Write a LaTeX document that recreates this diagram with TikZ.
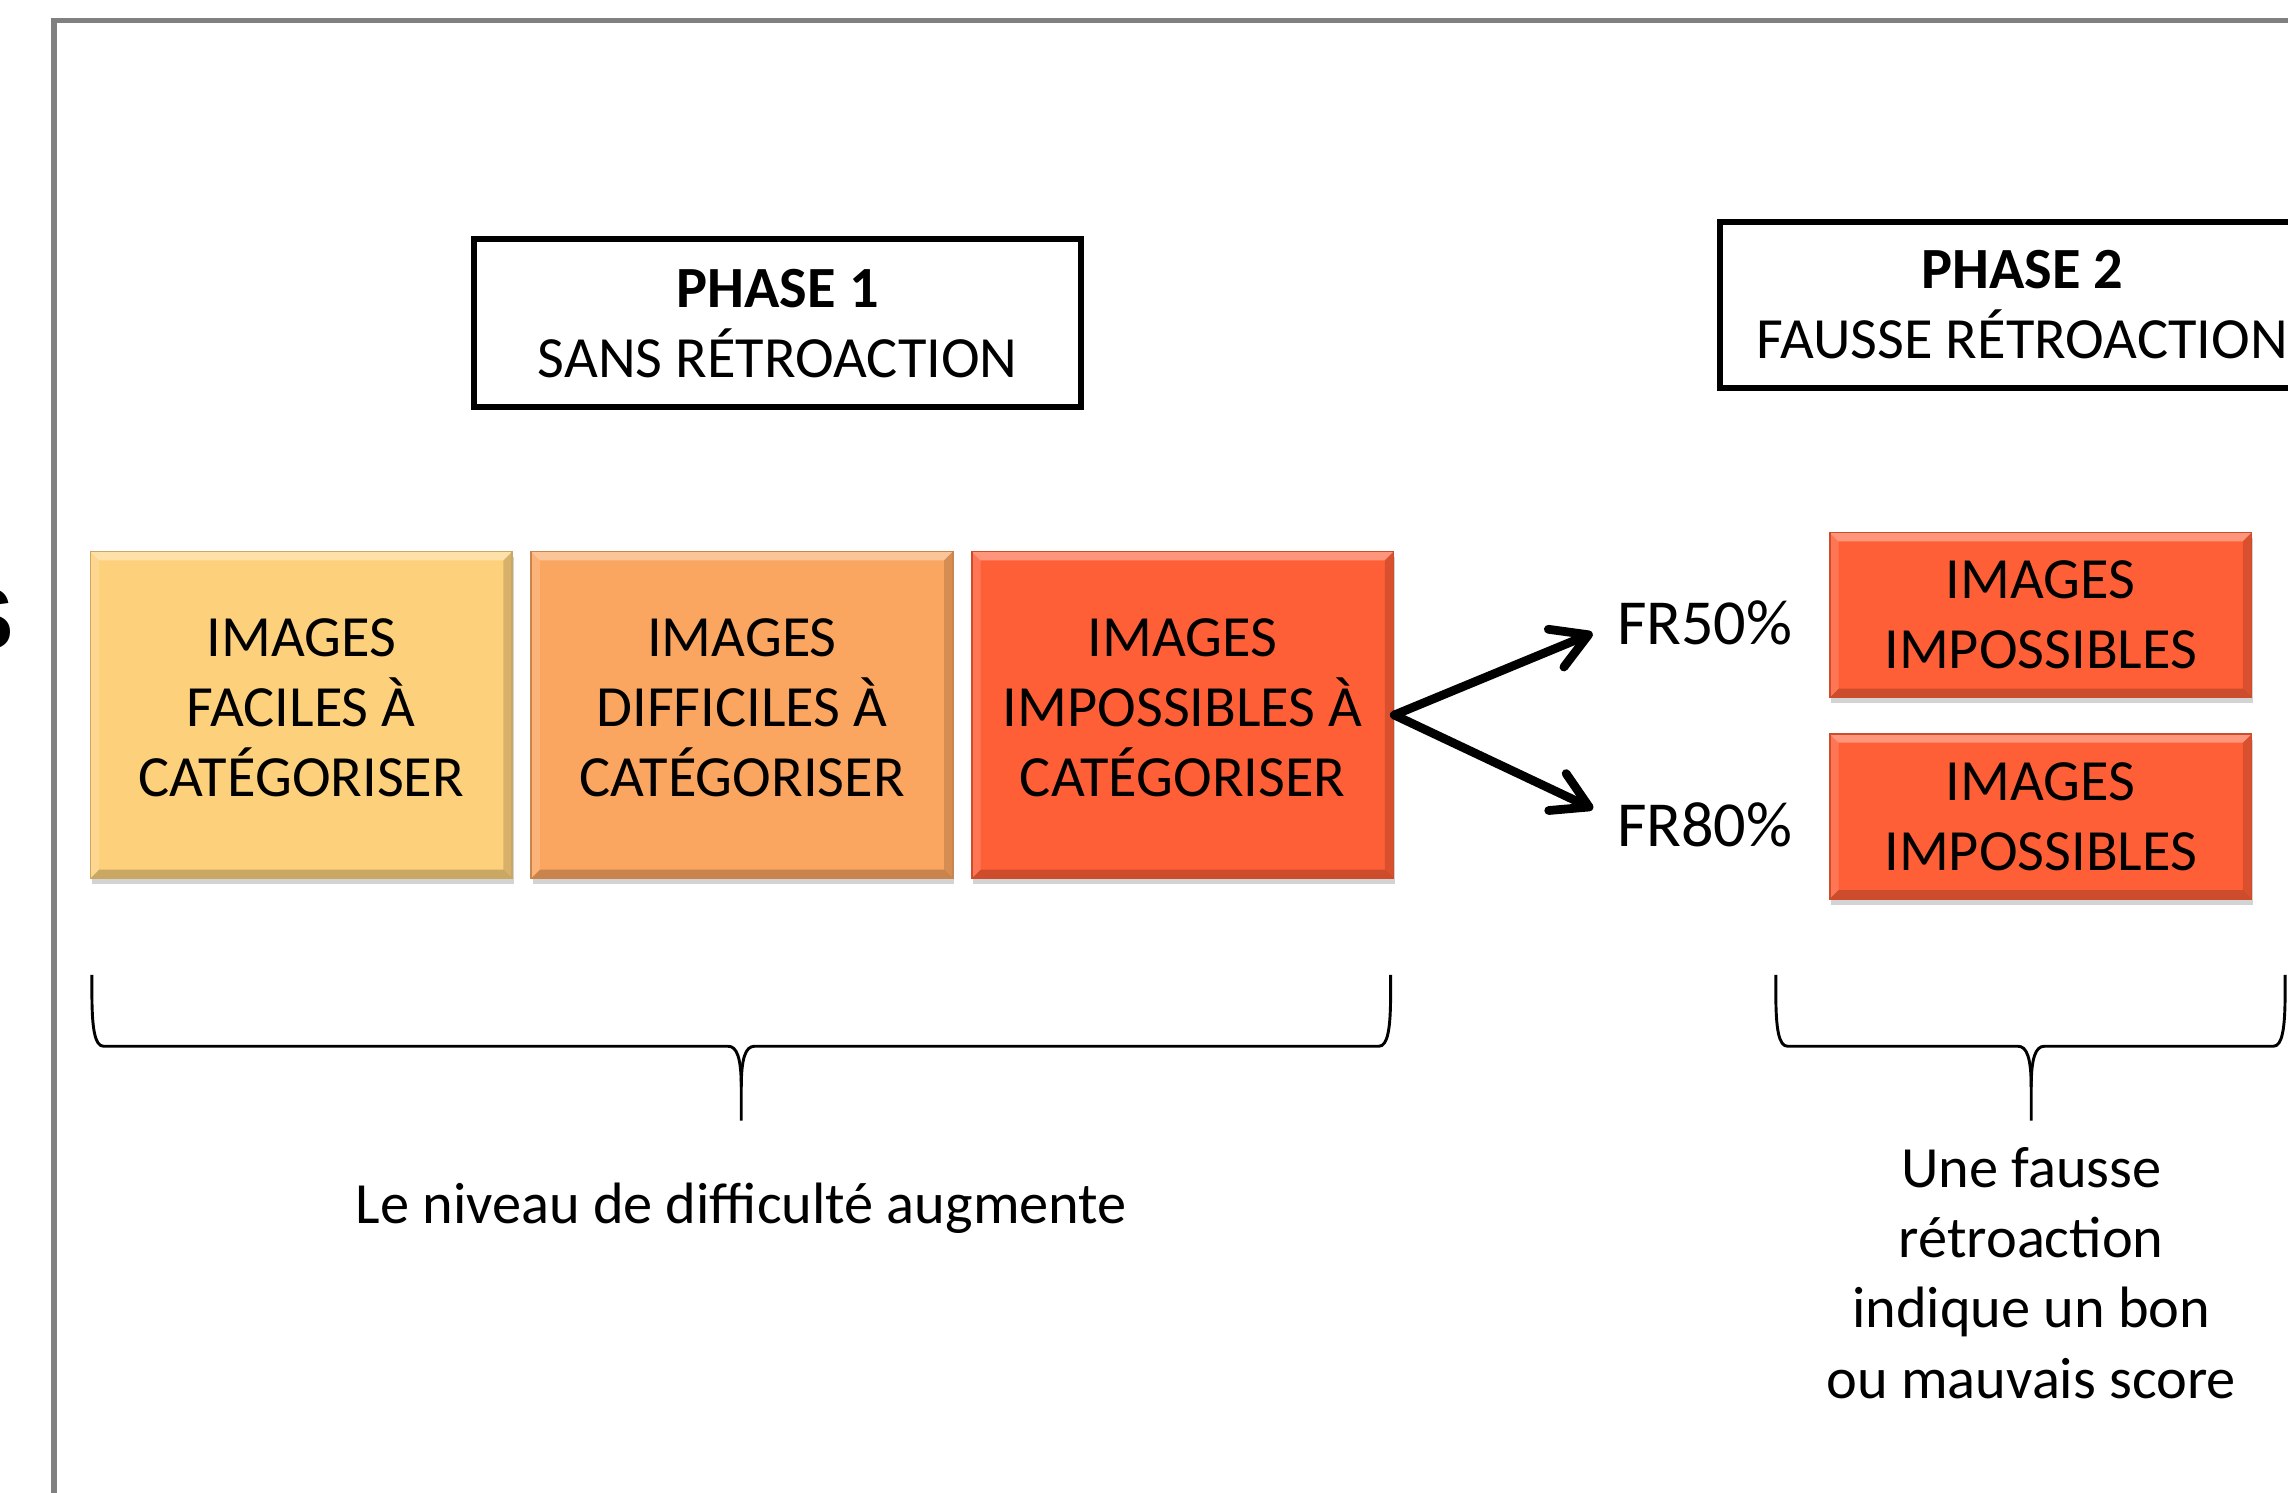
\documentclass[tikz,border=0pt]{standalone}
\usepackage{fontspec}
\setmainfont{Carlito}
\newfontfamily\sletterfont{Liberation Sans}
\usetikzlibrary{arrows.meta,positioning,shadows}

\definecolor{easyfill}{RGB}{253,209,124}
\definecolor{hardfill}{RGB}{251,166,96}
\definecolor{impfill}{RGB}{255,95,55}
\definecolor{framegray}{RGB}{128,128,128}

\newcommand{\bigfont}{\fontsize{40}{48}\selectfont}
\newcommand{\frfont}{\fontsize{44}{52}\selectfont}
\newcommand{\lift}{\rule[-10pt]{0pt}{10pt}}

\tikzset{
  imgbox/.style={rectangle, align=center, inner sep=0pt, font=\bigfont,
                 draw=#1!80!black, line width=1pt, fill=#1,
                 drop shadow={shadow xshift=1pt, shadow yshift=-4pt, opacity=.35},
                 path picture={
                   \fill[white, opacity=.35] (path picture bounding box.north west)
                     -- (path picture bounding box.north east) -- ++(-6pt,-6pt)
                     -- ([shift={(6pt,-6pt)}]path picture bounding box.north west) -- cycle;
                   \fill[white, opacity=.15] (path picture bounding box.north west)
                     -- ++(6pt,-6pt) -- ([shift={(6pt,6pt)}]path picture bounding box.south west)
                     -- (path picture bounding box.south west) -- cycle;
                   \fill[black, opacity=.15] (path picture bounding box.north east)
                     -- ++(-6pt,-6pt) -- ([shift={(-6pt,6pt)}]path picture bounding box.south east)
                     -- (path picture bounding box.south east) -- cycle;
                   \fill[black, opacity=.2] (path picture bounding box.south west)
                     -- (path picture bounding box.south east) -- ++(-6pt,6pt)
                     -- ([shift={(6pt,6pt)}]path picture bounding box.south west) -- cycle;
                 }},
  tallbox/.style={imgbox=#1, minimum width=289pt, minimum height=224pt},
  flatbox/.style={imgbox=#1, minimum width=289pt, minimum height=113pt},
  phasebox/.style={rectangle, draw, line width=4pt, align=center, inner sep=0pt,
                   font=\bigfont},
  fork/.style={-{Straight Barb[length=24pt, width=28pt, line width=6pt, round]},
               line width=6pt, line cap=round},
  bracket/.style={line width=2pt},
}

\begin{document}
\begin{tikzpicture}[x=1pt, y=1pt]
  \useasboundingbox (0,0) rectangle (1568,-1023);
  \draw[framegray, line width=4pt] (37,-14) rectangle (1640,-1080);
  \node[font=\sletterfont\fontsize{60}{60}\selectfont\bfseries, inner sep=0pt,
        anchor=base east] (cutS) at (10,-445) {S};

  % phase headers
  \node[phasebox, minimum width=416pt, minimum height=115pt] (phase1) at (533,-221.5)
       {\textbf{PHASE 1}\\SANS RÉTROACTION};
  \node[phasebox, minimum width=414pt, minimum height=114pt] (phase2) at (1386,-209)
       {\textbf{PHASE 2}\\FAUSSE RÉTROACTION};

  % phase 1 blocks
  \node[tallbox=easyfill]                        (easy) at (206.5,-490) {IMAGES\\FACILES À\\CATÉGORISER\lift};
  \node[tallbox=hardfill, right=12pt of easy]    (hard) {IMAGES\\DIFFICILES À\\CATÉGORISER\lift};
  \node[tallbox=impfill,  right=12pt of hard]    (impo) {IMAGES\\IMPOSSIBLES À\\CATÉGORISER\lift};

  % phase 2 blocks
  \node[font=\frfont, inner sep=0pt, anchor=west] (fr50) at (1108,-427) {FR50\%};
  \node[font=\frfont, inner sep=0pt, anchor=west] (fr80) at (1108,-565) {FR80\%};
  \node[flatbox=impfill] (imp50) at (1398.5,-421.5) {IMAGES\\IMPOSSIBLES};
  \node[flatbox=impfill] (imp80) at (1398.5,-559.5) {IMAGES\\IMPOSSIBLES};

  \draw[fork, shorten >=18pt] (impo.east) -- (fr50.west);
  \draw[fork, shorten >=18pt] (impo.east) -- ([yshift=3pt]fr80.west);

  % braces
  \draw[bracket] (63,-668) -- (63,-681) .. controls (63,-705) and (65,-717) .. (71,-717)
                 -- (499,-717) .. controls (505,-717) and (508,-725) .. (508,-745) -- (508,-768);
  \draw[bracket] (953,-668) -- (953,-681) .. controls (953,-705) and (951,-717) .. (945,-717)
                 -- (517,-717) .. controls (511,-717) and (508,-725) .. (508,-745);
  \draw[bracket] (1217,-668) -- (1217,-681) .. controls (1217,-705) and (1219,-717) .. (1225,-717)
                 -- (1383,-717) .. controls (1389,-717) and (1392,-725) .. (1392,-745) -- (1392,-768);
  \draw[bracket] (1566,-668) -- (1566,-681) .. controls (1566,-705) and (1564,-717) .. (1558,-717)
                 -- (1401,-717) .. controls (1395,-717) and (1392,-725) .. (1392,-745);

  \node[font=\bigfont, inner sep=0pt] (rise) at (508,-828) {Le niveau de difficulté augmente};
  \node[font=\bigfont, inner sep=0pt, align=center] (fake) at (1392,-872.5)
       {Une fausse\\rétroaction\\indique un bon\\ou mauvais score};
\end{tikzpicture}
\end{document}
